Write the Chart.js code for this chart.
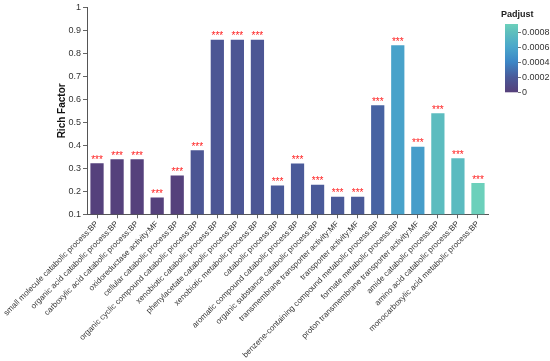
<!DOCTYPE html>
<html>
<head>
<meta charset="utf-8">
<script src="https://cdn.jsdelivr.net/npm/chart.js@4"></script>
<style>
html,body{margin:0;padding:0;background:#fff}
#wrap{position:relative;width:550px;height:361px}
</style>
</head>
<body>
<div id="wrap"><canvas id="cv"></canvas></div>
<script>
// ═══ DATA ═══
var terms=['small molecule catabolic process:BP','organic acid catabolic process:BP','carboxylic acid catabolic process:BP',
  'oxidoreductase activity:MF','cellular catabolic process:BP','organic cyclic compound catabolic process:BP',
  'xenobiotic catabolic process:BP','phenylacetate catabolic process:BP','xenobiotic metabolic process:BP',
  'catabolic process:BP','aromatic compound catabolic process:BP','organic substance catabolic process:BP',
  'transmembrane transporter activity:MF','transporter activity:MF','benzene-containing compound metabolic process:BP',
  'formate metabolic process:BP','proton transmembrane transporter activity:MF','amide catabolic process:BP',
  'amino acid catabolic process:BP','monocarboxylic acid metabolic process:BP'];
var richFactor=[0.322,0.34,0.34,0.173,0.269,0.379,0.859,0.859,0.859,0.225,0.321,0.229,0.176,0.176,0.574,0.835,0.394,0.54,0.344,0.236];
var padjust=[0.00001,0.00001,0.00001,0.00001,0.00001,0.00017,0.00017,0.00017,0.00017,0.0002,0.0002,0.0002,0.0002,0.0002,0.00024,0.00057,0.00054,0.00077,0.00076,0.0009];
var signif=['***','***','***','***','***','***','***','***','***','***','***','***','***','***','***','***','***','***','***','***'];
var yTicks=[0.1,0.2,0.3,0.4,0.5,0.6,0.7,0.8,0.9,1];
var cbTicks=[0,0.0002,0.0004,0.0006,0.0008];
var cbMax=0.0009;

// colour scale for Padjust
var cmap=[[0,'#56407a'],[0.0002,'#4a5a99'],[0.0004,'#3c86c6'],[0.0006,'#4aa7cb'],[0.0008,'#5fc0bd'],[0.0009,'#6cd0bb']];
function hex(h){return[parseInt(h.substr(1,2),16),parseInt(h.substr(3,2),16),parseInt(h.substr(5,2),16)];}
function colorOf(v){
  for(var i=1;i<cmap.length;i++){
    if(v<=cmap[i][0]||i===cmap.length-1){
      var a=hex(cmap[i-1][1]),b=hex(cmap[i][1]);
      var t=Math.max(0,Math.min(1,(v-cmap[i-1][0])/(cmap[i][0]-cmap[i-1][0])));
      return 'rgb('+[0,1,2].map(function(k){return Math.round(a[k]+(b[k]-a[k])*t);}).join(',')+')';
    }
  }
}
var FONT='Arial, "Liberation Sans", sans-serif';

// "***" above each bar
var starsPlugin={id:'stars',afterDatasetsDraw:function(chart){
  var ctx=chart.ctx,meta=chart.getDatasetMeta(0);
  ctx.save();ctx.fillStyle='#ff2020';ctx.font='10px '+FONT;ctx.textAlign='center';ctx.textBaseline='alphabetic';
  meta.data.forEach(function(bar,i){ctx.fillText(signif[i],bar.x,bar.y-0.5);});
  ctx.restore();
}};

// Padjust colour bar
var cbPlugin={id:'colorbar',afterDraw:function(chart){
  var ctx=chart.ctx,x0=505,x1=518,top=24,bot=92.3;
  ctx.save();
  var g=ctx.createLinearGradient(0,bot,0,top);
  cmap.forEach(function(s){g.addColorStop(s[0]/cbMax,s[1]);});
  ctx.fillStyle=g;ctx.fillRect(x0,top,x1-x0,bot-top);
  ctx.fillStyle='#222';ctx.font='bold 9px '+FONT;ctx.textAlign='left';ctx.textBaseline='middle';
  ctx.fillText('Padjust',501,15);
  ctx.font='9px '+FONT;ctx.strokeStyle='#777';ctx.lineWidth=1;
  cbTicks.forEach(function(v){
    var y=bot-(v/cbMax)*(bot-top);
    ctx.beginPath();ctx.moveTo(x1,Math.round(y)+0.5);ctx.lineTo(x1+3,Math.round(y)+0.5);ctx.stroke();
    ctx.fillStyle='#333';ctx.fillText(String(v),x1+4,y+0.5);
  });
  ctx.restore();
}};

new Chart(document.getElementById('cv'),{type:'bar',
  data:{labels:terms,datasets:[{data:richFactor,backgroundColor:padjust.map(colorOf),
    barPercentage:0.66,categoryPercentage:1,borderWidth:0}]},
  options:{responsive:true,maintainAspectRatio:false,animation:false,
    layout:{padding:{top:5,right:62,left:0,bottom:0}},
    plugins:{legend:{display:false},tooltip:{enabled:false}},
    scales:{
      x:{grid:{display:true,drawOnChartArea:false,offset:false,tickLength:4,color:'#666'},
         border:{color:'#555',width:1},
         ticks:{autoSkip:false,maxRotation:45,minRotation:45,padding:1,color:'#333',font:{family:FONT,size:8}},
         afterFit:function(s){s.height=146.7;}},
      y:{min:0.1,max:1,
         grid:{display:true,drawOnChartArea:false,tickLength:4,color:'#666'},
         border:{color:'#555',width:1},
         afterBuildTicks:function(s){s.ticks=yTicks.map(function(v){return{value:v};});},
         ticks:{padding:2,color:'#333',font:{family:FONT,size:9},callback:function(v){return String(+v.toFixed(1));}},
         title:{display:true,text:'Rich Factor',color:'#111',padding:{top:56,bottom:0},font:{family:FONT,size:10,weight:'bold'}},
         afterFit:function(s){s.width=87;}}
    }
  },
  plugins:[starsPlugin,cbPlugin]
});
</script>
</body>
</html>
